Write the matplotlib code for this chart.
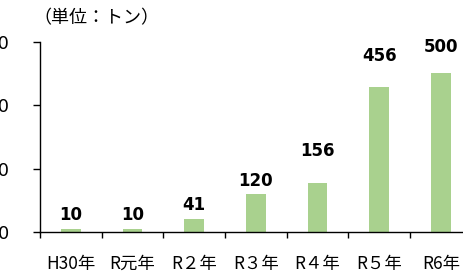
import matplotlib
matplotlib.use("Agg")
import matplotlib.pyplot as plt
import numpy as np

categories = ["H30年", "R元年", "R２年", "R３年", "R４年", "R５年", "R6年"]
values = [10, 10, 41, 120, 156, 456, 500]
label_gaps_px = [9, 9, 9, 8, 27, 26, 21]
yticks = [0, 200, 400, 600]
unit_label = "（単位：トン）"

plt.rcParams['font.family'] = ['Noto Sans CJK JP', 'DejaVu Sans']

fig = plt.figure(figsize=(4.64, 2.73), dpi=100)
W, H = 464, 273
left, bottom = 40 / W, 41 / H
width = 7 * 61.67 / W
height = 190.3 / H
ax = fig.add_axes([left, bottom, width, height])

x = np.arange(len(categories))
ax.bar(x, values, width=0.32, color="#A9D18E", zorder=2)

for xi, v, g in zip(x, values, label_gaps_px):
    ax.annotate(str(v), (xi, v), xytext=(0, g), textcoords="offset pixels",
                ha="center", va="baseline", fontsize=12, fontweight="bold",
                family="DejaVu Sans", color="black")

ax.set_xlim(-0.5, len(categories) - 0.5)
ax.set_ylim(0, 600)
ax.set_yticks(yticks)
ax.set_yticklabels([str(t) for t in yticks], fontsize=13, family="DejaVu Sans")
ax.tick_params(axis="y", direction="out", length=5, width=1, pad=17, colors="black")

ax.set_xticks(x)
ax.set_xticklabels(categories, fontsize=12.5)
for lbl in ax.get_xticklabels():
    lbl.set_verticalalignment("center")
ax.tick_params(axis="x", which="major", length=0, pad=23)
ax.set_xticks(np.arange(-0.5, len(categories), 1.0), minor=True)
ax.tick_params(axis="x", which="minor", direction="out", length=4.5, width=1, colors="black")

for s in ["top", "right"]:
    ax.spines[s].set_visible(False)
for s in ["left", "bottom"]:
    ax.spines[s].set_color("black")
    ax.spines[s].set_linewidth(1)

fig.text(33 / W, 1 - 18 / H, unit_label, fontsize=13, ha="left", va="center")

fig.savefig("out.png", dpi=100)
